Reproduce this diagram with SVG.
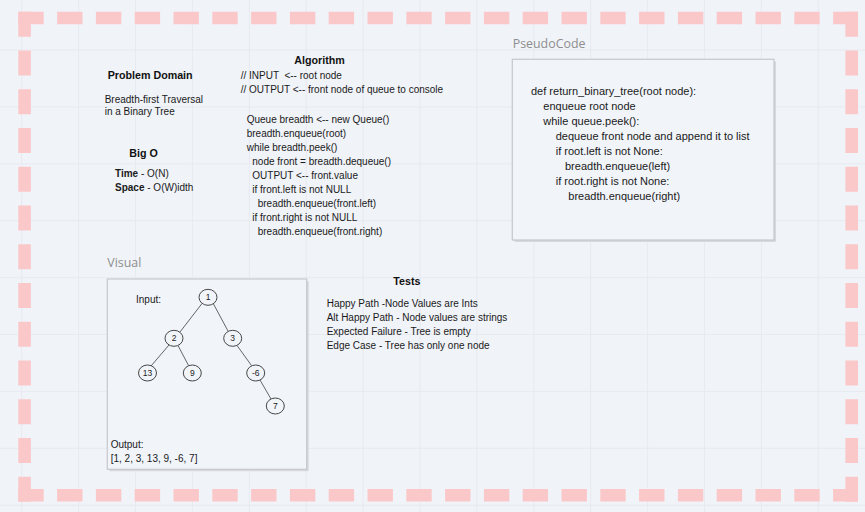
<svg xmlns="http://www.w3.org/2000/svg" width="865" height="512" viewBox="0 0 865 512">
<defs>
<style>
.grid line{stroke:#e7eaf0;stroke-width:1}
.bd{stroke:#fbc8c9;stroke-width:12.6;fill:none}
.t{font-family:"Liberation Sans",Arial,sans-serif;font-size:10px;fill:#1a1a1a}
.h{font-family:"Liberation Sans",Arial,sans-serif;font-size:10.7px;font-weight:bold;fill:#111}
.pc{font-family:"Liberation Sans",Arial,sans-serif;font-size:11px;fill:#1a1a1a}
.lbl{font-family:"Open Sans","Noto Sans",sans-serif;font-size:12.4px;fill:#8e8e8e}
.box{fill:#f1f4f9;stroke:#c6c8cc;stroke-width:1.2}
.sh{fill:#d6d8dc}
.n ellipse{fill:#f1f4f9;stroke:#333;stroke-width:0.9}
.n text{font-family:"Liberation Sans",Arial,sans-serif;font-size:8.5px;fill:#222;text-anchor:middle}
.e line{stroke:#555;stroke-width:0.9}
</style>
</defs>
<rect width="865" height="512" fill="#f0f3f8"/>
<g class="grid">
<line x1="21.7" y1="0" x2="21.7" y2="512"/><line x1="78.6" y1="0" x2="78.6" y2="512"/><line x1="135.5" y1="0" x2="135.5" y2="512"/><line x1="192.4" y1="0" x2="192.4" y2="512"/><line x1="249.3" y1="0" x2="249.3" y2="512"/><line x1="306.2" y1="0" x2="306.2" y2="512"/><line x1="363.1" y1="0" x2="363.1" y2="512"/><line x1="420" y1="0" x2="420" y2="512"/><line x1="476.9" y1="0" x2="476.9" y2="512"/><line x1="533.8" y1="0" x2="533.8" y2="512"/><line x1="590.7" y1="0" x2="590.7" y2="512"/><line x1="647.6" y1="0" x2="647.6" y2="512"/><line x1="704.5" y1="0" x2="704.5" y2="512"/><line x1="761.4" y1="0" x2="761.4" y2="512"/><line x1="818.3" y1="0" x2="818.3" y2="512"/>
<line x1="0" y1="50" x2="865" y2="50"/><line x1="0" y1="106.9" x2="865" y2="106.9"/><line x1="0" y1="163.8" x2="865" y2="163.8"/><line x1="0" y1="220.7" x2="865" y2="220.7"/><line x1="0" y1="277.6" x2="865" y2="277.6"/><line x1="0" y1="334.5" x2="865" y2="334.5"/><line x1="0" y1="391.4" x2="865" y2="391.4"/><line x1="0" y1="448.3" x2="865" y2="448.3"/><line x1="0" y1="505.2" x2="865" y2="505.2"/>
</g>
<g id="border">
<line class="bd" x1="18.3" y1="18" x2="858" y2="18" stroke-dasharray="25.4 13.4"/>
<line class="bd" x1="18.3" y1="495.3" x2="858" y2="495.3" stroke-dasharray="25.4 13.4"/>
<line class="bd" x1="24.6" y1="11.7" x2="24.6" y2="501.7" stroke-dasharray="25 13.75"/>
<line class="bd" x1="851.7" y1="11.7" x2="851.7" y2="501.7" stroke-dasharray="25 13.75"/>
</g>
<g id="problem-domain">
<text class="h" x="107.7" y="79.3">Problem Domain</text>
<text class="t" x="104.7" y="103.3">Breadth-first Traversal</text>
<text class="t" x="104.7" y="115.3">in a Binary Tree</text>
</g>
<g id="big-o">
<text class="h" x="129.3" y="156.7">Big O</text>
<text class="t" x="115" y="177.3"><tspan font-weight="bold">Time</tspan> - O(N)</text>
<text class="t" x="115" y="191.2"><tspan font-weight="bold">Space</tspan> - O(W)idth</text>
</g>
<g id="algorithm">
<text class="h" x="294.3" y="64">Algorithm</text>
<text class="t" x="240.7" y="78.7" xml:space="preserve">// INPUT  &lt;-- root node</text>
<text class="t" x="240.7" y="92.7">// OUTPUT &lt;-- front node of queue to console</text>
<text class="t" x="246.7" y="122.7">Queue breadth &lt;-- new Queue()</text>
<text class="t" x="246.7" y="136.7">breadth.enqueue(root)</text>
<text class="t" x="246.7" y="150.7">while breadth.peek()</text>
<text class="t" x="252.3" y="164.7">node front = breadth.dequeue()</text>
<text class="t" x="252.3" y="178.7">OUTPUT &lt;-- front.value</text>
<text class="t" x="252.3" y="192.7">if front.left is not NULL</text>
<text class="t" x="257.7" y="206.7">breadth.enqueue(front.left)</text>
<text class="t" x="252.3" y="220.7">if front.right is not NULL</text>
<text class="t" x="257.7" y="234.7">breadth.enqueue(front.right)</text>
</g>
<g id="pseudocode">
<text class="lbl" x="512.7" y="48.3">PseudoCode</text>
<rect class="sh" x="514.3" y="61.3" width="261.7" height="180.7" rx="1"/>
<rect class="box" x="512.3" y="59.3" width="261.7" height="180.7"/>
<text class="pc" x="531" y="95">def return_binary_tree(root node):</text>
<text class="pc" x="543.3" y="110">enqueue root node</text>
<text class="pc" x="543.3" y="125">while queue.peek():</text>
<text class="pc" x="555.7" y="140">dequeue front node and append it to list</text>
<text class="pc" x="555.7" y="155">if root.left is not None:</text>
<text class="pc" x="565" y="170">breadth.enqueue(left)</text>
<text class="pc" x="555.7" y="185">if root.right is not None:</text>
<text class="pc" x="568.3" y="200">breadth.enqueue(right)</text>
</g>
<g id="tests">
<text class="h" x="393.3" y="285">Tests</text>
<text class="t" x="326.7" y="306.7">Happy Path -Node Values are Ints</text>
<text class="t" x="326.7" y="320.7">Alt Happy Path - Node values are strings</text>
<text class="t" x="326.7" y="334.7">Expected Failure - Tree is empty</text>
<text class="t" x="326.7" y="348.7">Edge Case - Tree has only one node</text>
</g>
<g id="visual">
<text class="lbl" x="107.3" y="267.3">Visual</text>
<rect class="sh" x="109.3" y="281" width="199.4" height="190.3" rx="1"/>
<rect class="box" x="107.3" y="279" width="199.4" height="190.3"/>
<text class="t" x="136" y="303.3">Input:</text>
<text class="t" x="110.7" y="447.7">Output:</text>
<text class="t" x="110.7" y="462.3">[1, 2, 3, 13, 9, -6, 7]</text>
</g>
<g id="connectors" class="e">
<line x1="202" y1="303.5" x2="180" y2="332"/>
<line x1="213.5" y1="304" x2="228" y2="331"/>
<line x1="169" y1="345" x2="151" y2="366"/>
<line x1="178" y1="345.5" x2="188.5" y2="365.5"/>
<line x1="237" y1="345.5" x2="251.5" y2="365.5"/>
<line x1="260" y1="380" x2="271" y2="399"/>
</g>
<g id="node-1" class="n"><ellipse cx="208" cy="297.3" rx="9" ry="8"/><text x="208" y="300.3">1</text></g>
<g id="node-2" class="n"><ellipse cx="174" cy="338.3" rx="9" ry="8"/><text x="174" y="341.3">2</text></g>
<g id="node-3" class="n"><ellipse cx="232.7" cy="338.3" rx="9" ry="8"/><text x="232.7" y="341.3">3</text></g>
<g id="node-13" class="n"><ellipse cx="147.5" cy="373" rx="9" ry="8"/><text x="147.5" y="376">13</text></g>
<g id="node-9" class="n"><ellipse cx="192.3" cy="373" rx="9" ry="8"/><text x="192.3" y="376">9</text></g>
<g id="node-neg6" class="n"><ellipse cx="255.7" cy="373" rx="9" ry="8"/><text x="255.7" y="376">-6</text></g>
<g id="node-7" class="n"><ellipse cx="275.3" cy="406" rx="9" ry="8"/><text x="275.3" y="409">7</text></g>
</svg>
